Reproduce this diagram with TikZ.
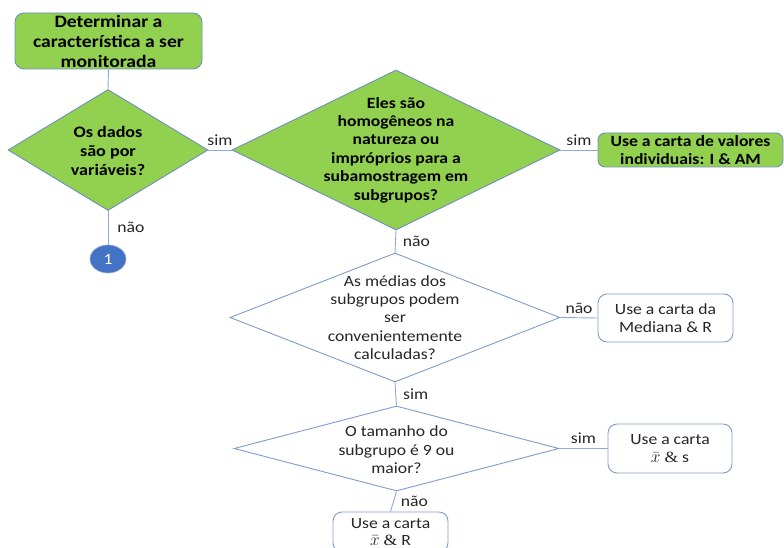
\documentclass[tikz,border=0pt]{standalone}
\usepackage{fontspec}
\setmainfont{Carlito}[FakeStretch=1.13]
\newfontfamily\serifamp{Liberation Serif}[FakeStretch=1.13]
\usetikzlibrary{shapes.geometric}
\definecolor{mygreen}{HTML}{92D050}
\definecolor{gborder}{HTML}{6F8FBE}
\definecolor{wborder}{HTML}{7F9DCB}
\definecolor{linec}{HTML}{8EAADB}
\definecolor{circfill}{HTML}{4472C4}
\definecolor{txtgray}{HTML}{262626}
\newcommand{\xbarsym}{\scalebox{1.2}{$\bar{x}$}}
\tikzset{
  bodyfont/.style={font=\fontsize{15.6}{18.4}\selectfont},
  boldfont/.style={font=\fontsize{15.6}{18.4}\selectfont\bfseries},
  conn/.style={draw=linec, line width=0.9pt},
  gbox/.style={draw=gborder, fill=mygreen, rounded corners=9pt, line width=0.9pt, align=center, boldfont, inner sep=0pt},
  wbox/.style={draw=wborder, fill=white, rounded corners=9pt, line width=0.9pt, align=center, inner sep=0pt, text=txtgray, bodyfont},
  gdia/.style={diamond, draw=gborder, fill=mygreen, inner sep=0pt, line width=0.9pt},
  wdia/.style={diamond, draw=wborder, fill=white, inner sep=0pt, line width=0.9pt},
  gtext/.style={align=center, inner sep=0pt, boldfont},
  wtext/.style={align=center, inner sep=0pt, text=txtgray, bodyfont},
  lab/.style={inner sep=1pt, text=txtgray, bodyfont},
}
\begin{document}
\begin{tikzpicture}[x=1pt, y=1pt, bodyfont]
\useasboundingbox (0,0) rectangle (784,547);
% shapes
\node[gbox, minimum width=187pt, minimum height=56pt, font=\fontsize{17.4}{20}\selectfont\bfseries] (start) at (108.5,506) {Determinar a\\característica a ser\\monitorada};
\node[gdia, minimum width=200pt, minimum height=121pt] (d1) at (108,397) {};
\node[gtext, font=\fontsize{16}{19}\selectfont\bfseries] (d1t) at (108,396) {Os dados\\são por\\variáveis?};
\node[gdia, minimum width=328pt, minimum height=160pt] (d2) at (396,397) {};
\node[gtext] (d2t) at (396,397) {Eles são\\homogêneos na\\natureza ou\\impróprios para a\\subamostragem em\\subgrupos?};
\node[gbox, minimum width=185pt, minimum height=34pt, rounded corners=7pt] (b1) at (690.5,397) {Use a carta de valores\\individuais: I \& AM};
\node[ellipse, draw=linec, fill=circfill, minimum width=36pt, minimum height=28pt, inner sep=0pt, text=white, line width=0.6pt] (c1) at (108,288) {1};
\node[wdia, minimum width=330pt, minimum height=129pt] (d3) at (395,229.5) {};
\node[wtext] (d3t) at (395,229.5) {As médias dos\\subgrupos podem\\ser\\convenientemente\\calculadas?};
\node[wbox, minimum width=135pt, minimum height=48pt] (b2) at (665.5,229) {Use a carta da\\Mediana \& R};
\node[wdia, minimum width=325pt, minimum height=85pt] (d4) at (396.5,98.5) {};
\node[wtext] (d4t) at (396.5,97) {O tamanho do\\subgrupo é 9 ou\\maior?};
\node[wbox, minimum width=124pt, minimum height=49pt] (b3) at (670,98.5) {Use a carta\\\xbarsym\ {\serifamp\&} s};
\node[wbox, minimum width=115pt, minimum height=40pt, font=\fontsize{15.6}{17}\selectfont] (b4) at (390.5,15) {Use a carta\\\xbarsym\ {\serifamp\&} R};
% connectors
\draw[conn] (start.south) -- (d1.north);
\draw[conn] (d1.east) -- node[lab, above=3pt] (l1) {sim} (d2.west);
\draw[conn] (d2.east) -- node[lab, above=3pt] (l2) {sim} (b1.west);
\draw[conn] (d1.south) -- node[lab, right=8pt] (l3) {não} (c1.north);
\draw[conn] (d2.south) -- node[lab, right=6pt] (l4) {não} (d3.north);
\draw[conn] (d3.east) -- node[lab, above=3pt] (l5) {não} (b2.west);
\draw[conn] (d3.south) -- node[lab, right=6pt] (l6) {sim} (d4.north);
\draw[conn] (d4.east) -- node[lab, above=3pt] (l7) {sim} (b3.west);
\draw[conn] (d4.south) -- node[lab, right=6pt] (l8) {não} (b4.north);
\end{tikzpicture}
\end{document}
